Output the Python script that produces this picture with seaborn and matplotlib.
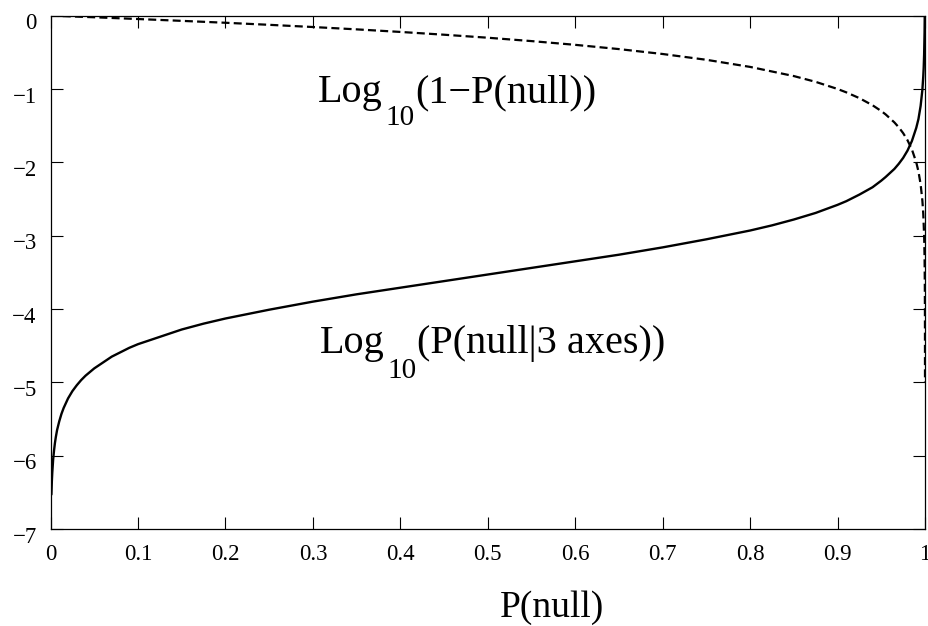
import numpy as np
import pandas as pd
import seaborn as sns
import matplotlib.pyplot as plt
from matplotlib.transforms import ScaledTranslation

# P(null) sample points and curve values
p_solid = [0.001, 0.0015, 0.002, 0.003, 0.004, 0.005, 0.006, 0.0075, 0.01, 0.0125, 0.015,
           0.02, 0.025, 0.03, 0.035, 0.04, 0.045, 0.05, 0.055, 0.065, 0.07, 0.08, 0.09,
           0.1, 0.11, 0.125, 0.15, 0.175, 0.2, 0.25, 0.3, 0.35, 0.4, 0.45, 0.5,
           0.55, 0.6, 0.65, 0.7, 0.75, 0.8, 0.825, 0.85, 0.875, 0.9, 0.91, 0.925, 0.94,
           0.95, 0.955, 0.965, 0.97, 0.975, 0.98, 0.985, 0.99, 0.9925, 0.995, 0.997,
           0.998, 0.9985, 0.999, 0.9995, 0.9997]
log_p_3axes = [-6.53, -6.35, -6.23, -6.05, -5.93, -5.83, -5.75, -5.65, -5.53, -5.43, -5.35,
               -5.22, -5.12, -5.04, -4.97, -4.91, -4.86, -4.81, -4.77, -4.69, -4.65, -4.59, -4.53,
               -4.48, -4.44, -4.38, -4.28, -4.20, -4.13, -4.01, -3.90, -3.80, -3.71, -3.62, -3.53,
               -3.44, -3.35, -3.26, -3.16, -3.05, -2.93, -2.86, -2.78, -2.69, -2.58, -2.53, -2.44, -2.34,
               -2.25, -2.20, -2.09, -2.02, -1.94, -1.84, -1.71, -1.53, -1.41, -1.23, -1.01,
               -0.83, -0.71, -0.53, -0.23, -0.01]

p_dashed = [0.0, 0.025, 0.05, 0.1, 0.15, 0.2, 0.25, 0.3, 0.35, 0.4, 0.45, 0.5, 0.55,
            0.6, 0.65, 0.7, 0.75, 0.8, 0.85, 0.875, 0.9, 0.91, 0.925, 0.94, 0.95, 0.955,
            0.965, 0.97, 0.975, 0.98, 0.985, 0.99, 0.9925, 0.995, 0.997, 0.998, 0.999,
            0.9995, 0.9998, 0.9999, 0.99995, 0.99999]
log_1_minus_p = [0.0, -0.011, -0.022, -0.046, -0.071, -0.097, -0.125, -0.155, -0.187, -0.222,
                 -0.260, -0.301, -0.347, -0.398, -0.456, -0.523, -0.602, -0.699, -0.824, -0.903,
                 -1.0, -1.046, -1.125, -1.222, -1.301, -1.347, -1.456, -1.523, -1.602, -1.699,
                 -1.824, -2.0, -2.125, -2.301, -2.523, -2.699, -3.0, -3.301, -3.699, -4.0,
                 -4.301, -5.0]

x_ticks = [0, 0.1, 0.2, 0.3, 0.4, 0.5, 0.6, 0.7, 0.8, 0.9, 1]
x_tick_labels = ["0", "0.1", "0.2", "0.3", "0.4", "0.5", "0.6", "0.7", "0.8", "0.9", "1"]
y_ticks = [0, -1, -2, -3, -4, -5, -6, -7]

sns.set_style("ticks")
plt.rcParams['font.family'] = ['Liberation Serif', 'DejaVu Serif']
plt.rcParams['text.color'] = 'black'
plt.rcParams['axes.labelcolor'] = 'black'
plt.rcParams['xtick.color'] = 'black'
plt.rcParams['ytick.color'] = 'black'

fig = plt.figure(figsize=(9.29, 6.26), dpi=100)
ax = fig.add_axes([0.0544, 0.155, 0.9413, 0.82])

sns.lineplot(x=p_solid, y=log_p_3axes, ax=ax, color='black', lw=1.7, estimator=None)
sns.lineplot(x=p_dashed, y=log_1_minus_p, ax=ax, color='black', lw=1.6, estimator=None,
             linestyle=(0, (3.6, 1.9)))

ax.set_xlim(0, 1)
ax.set_ylim(-7, 0)
ax.set_xticks(x_ticks)
ax.set_xticklabels(x_tick_labels)
ax.set_yticks(y_ticks)
ax.tick_params(direction='in', length=8.5, width=0.8, labelsize=16.5, colors='black',
               top=True, right=True)
ax.tick_params(axis='x', pad=11)
ax.tick_params(axis='y', pad=10)
for s in ax.spines.values():
    s.set_linewidth(0.9)
    s.set_color('black')

# y labels sit a bit below their ticks in the original
shift = ScaledTranslation(0, -4 / 72, fig.dpi_scale_trans)
for lab in ax.get_yticklabels():
    lab.set_transform(lab.get_transform() + shift)

# curve labels with low-hanging subscripts
def sub_label(x, y_main, y_sub, head, sub, tail):
    t1 = ax.text(x, y_main, head, fontsize=29, va='baseline', ha='left', color='black')
    t2 = ax.annotate(sub, xy=(1, y_sub), xycoords=(t1, 'data'), xytext=(2, 0),
                     textcoords='offset points', fontsize=21, va='baseline', ha='left',
                     color='black')
    ax.annotate(tail, xy=(1, y_main), xycoords=(t2, 'data'), xytext=(0, 0),
                textcoords='offset points', fontsize=29, va='baseline', ha='left',
                color='black')

sub_label(0.306, -1.177, -1.492, "Log", "10", "(1\u2212P(null))")
sub_label(0.308, -4.600, -4.943, "Log", "10", "(P(null|3 axes))")

ax.set_xlabel("P(null)", fontsize=27, color='black')
ax.xaxis.set_label_coords(0.574, -0.1714)
ax.xaxis.label.set_verticalalignment('baseline')
ax.set_ylabel("")

fig.savefig("out.png", dpi=100)
